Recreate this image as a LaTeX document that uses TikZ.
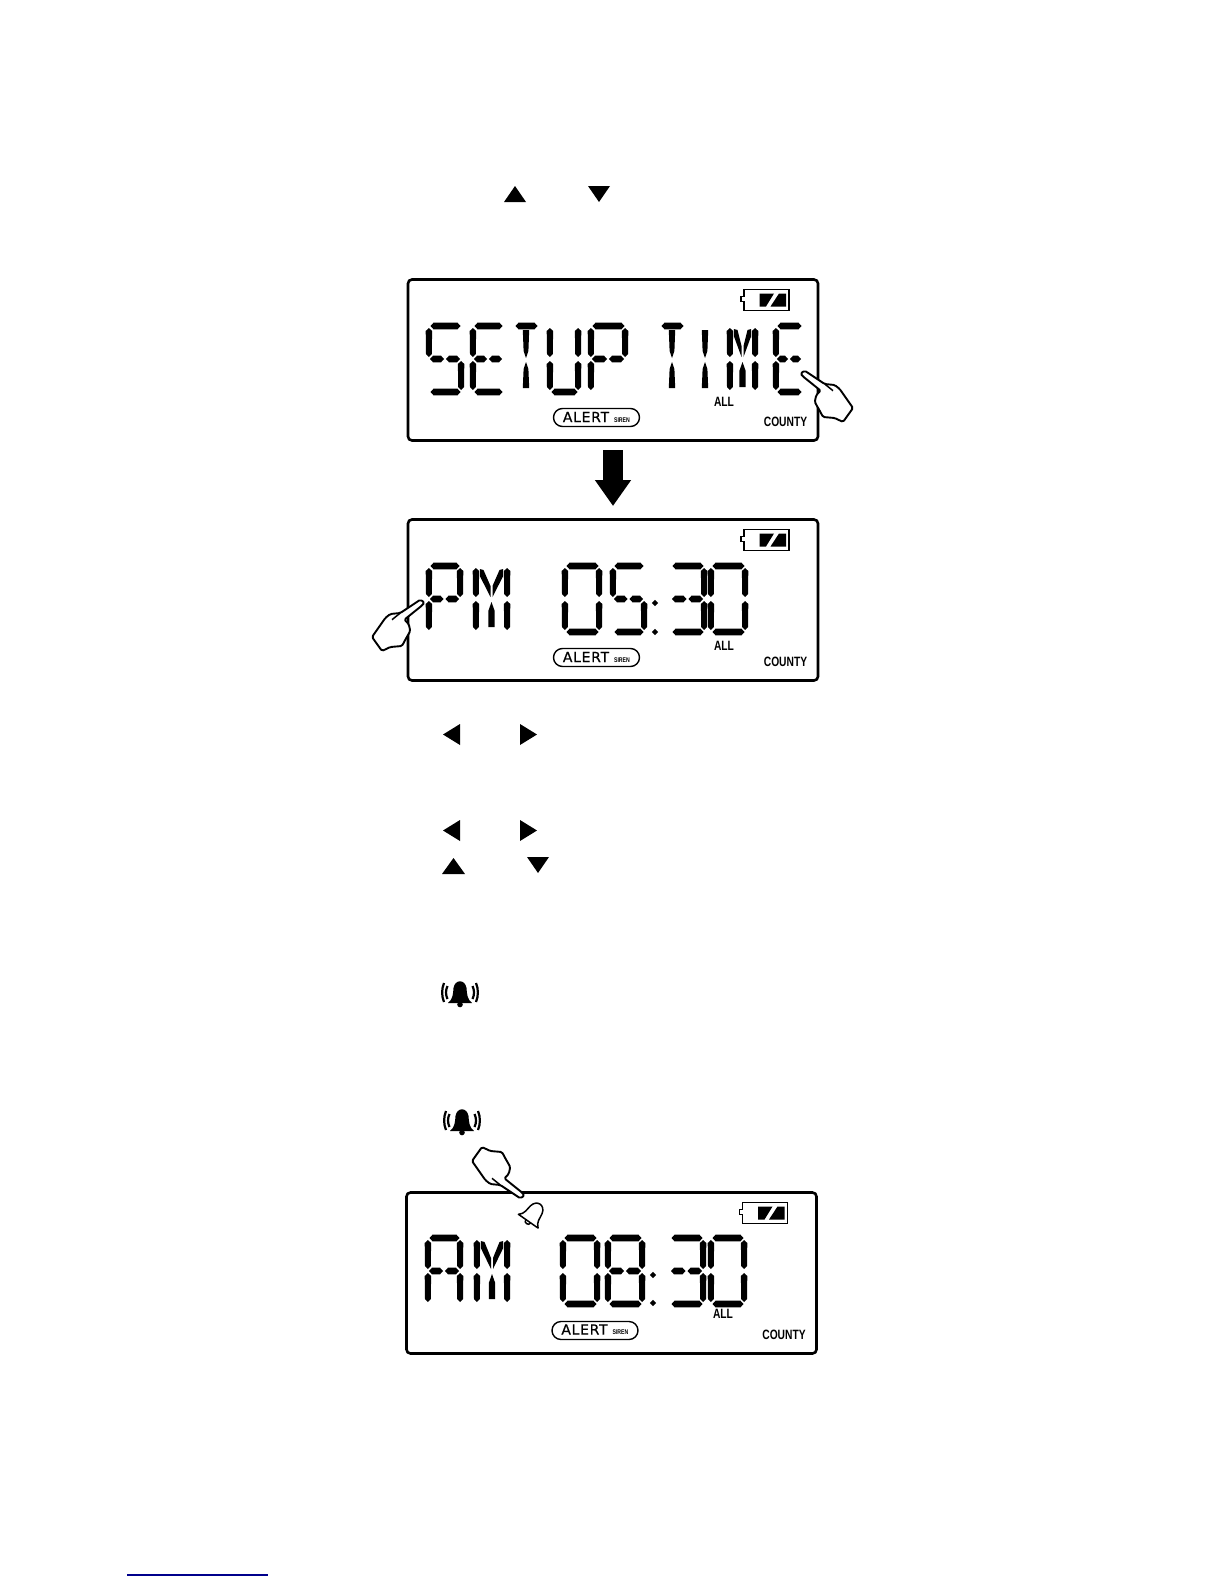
\documentclass[tikz,border=0pt]{standalone}
\usepackage{fontspec}
\usetikzlibrary{arrows.meta}
\newfontfamily\lcdbold[FakeStretch=0.76]{Liberation Sans}
\newfontfamily\lcdthin[LetterSpace=5,FakeBold=0.6]{DejaVu Sans}
\newcommand{\lcdh}[3]{\fill (#1,#3)--(#1+3,#3-3.3)--(#2-3,#3-3.3)--(#2,#3)--(#2-3,#3+3.3)--(#1+3,#3+3.3)--cycle;}
\newcommand{\lcdv}[3]{\fill (#1,#2)--(#1+3.2,#2+3)--(#1+2.9,#3-3)--(#1,#3)--(#1-2.9,#3-3)--(#1-3.2,#2+3)--cycle;}
\newcommand{\lcdsega}{\lcdh{4.5}{\W-3.5}{3}}
\newcommand{\lcdsegd}{\lcdh{4.5}{\W-3.5}{69}}
\newcommand{\lcdsegg}{\lcdh{4}{\W/2-1}{36}}
\newcommand{\lcdsegk}{\lcdh{\W/2+1}{\W-4}{36}}
\newcommand{\lcdsegf}{\lcdv{2.9}{5}{34}}
\newcommand{\lcdsege}{\lcdv{2.9}{38}{67}}
\newcommand{\lcdsegb}{\lcdv{\W-2.9}{5}{34}}
\newcommand{\lcdsegc}{\lcdv{\W-2.9}{38}{67}}
\newcommand{\lcdsegi}{\fill (\W/2-3.2,7)--(\W/2+3.2,7)--(\W/2+2.4,28)--(\W/2,35)--(\W/2-2.4,28)--cycle;}
\newcommand{\lcdsegl}{\fill (\W/2,39)--(\W/2+2.4,46)--(\W/2+3.2,65)--(\W/2-3.2,65)--(\W/2-2.4,46)--cycle;}
\newcommand{\lcdsegp}{\fill (6.8,6)--(10.5,7)--(\W/2-1,23)--(\W/2-1,34)--(6.8,13)--cycle;}
\newcommand{\lcdsegq}{\fill (\W-6.8,6)--(\W-10.5,7)--(\W/2+1,23)--(\W/2+1,34)--(\W-6.8,13)--cycle;}
\newcommand{\lcdsegm}{\fill (\W/2,39)--(\W/2+3.2,48)--(\W/2+3.2,64)--(\W/2-3.2,64)--(\W/2-3.2,48)--cycle;}
\newcommand{\lcd}[4]{\begin{scope}[shift={(#1,#2)}]\def\W{#3}\foreach \s in {#4}{\csname lcdseg\s\endcsname}\end{scope}}
\newcommand{\lcdcolon}[3]{\fill (#1-3.2,#2)--(#1,#2-3.2)--(#1+3.2,#2)--(#1,#2+3.2)--cycle;\fill (#1-3.2,#3)--(#1,#3-3.2)--(#1+3.2,#3)--(#1,#3+3.2)--cycle;}
% screen frame with its fixed marks
\newcommand{\screen}[6]{%
\begin{scope}[shift={(#2,#3)}]
\node[lcdbox] (#1) at (0,0) {};
\node[pill] (#1pill) at (188.5,138) {};
\node[alerttext] (#1alert) at (178,#6) {ALERT};
\node[sirentext] (#1siren) at (214,#6+2.8) {SIREN};
\node[boldtext] (#1county) at (377.5,142.5) {COUNTY};
\node[boldtext] (#1all) at (#4,#5) {ALL};
\draw[line width=1.5] (336,10)--(381,10)--(381,31)--(336,31)--(336,22)--(333,22)--(333,17)--(336,17)--cycle;
\fill (351.5,14)--(366,14)--(358,27)--(351.5,27)--cycle;
\fill (371,14)--(378,14)--(378,27)--(362.5,27)--cycle;
\end{scope}}
\newcommand{\handshape}{\draw[line width=1.9,fill=white,line join=round,rounded corners=1.5pt]
 (-1.5,0.5)--(2.7,-2.3)--(22.7,11)--(32.7,12)--(37.7,16)--(51,35)--(41,49)--(32.7,45)--(21,44)--(17.7,37.7)--(12.7,29)--(14.3,22)--(18.7,17.7)--(1,3.5)--cycle;
 \draw[line width=1.5] (22.7,11)--(31,17.7);}
\newcommand{\soundbell}[2]{\begin{scope}[shift={(#1,#2)}]
 \fill (-12,11)..controls (-7,7) and (-7,2)..(-6.5,-4)..controls (-5,-13) and (5,-13)..(6.5,-4)..controls (7,2) and (7,7)..(12,11)--cycle;
 \fill (0,12.5) circle (2.8);
 \draw[line width=2.2] (-12.5,-6)..controls (-14.5,-2) and (-14.5,3)..(-12.5,7);
 \draw[line width=2.2] (-16,-9)..controls (-18.5,-3) and (-18.5,4)..(-16,10);
 \draw[line width=2.2] (12.5,-6)..controls (14.5,-2) and (14.5,3)..(12.5,7);
 \draw[line width=2.2] (16,-9)..controls (18.5,-3) and (18.5,4)..(16,10);
\end{scope}}
\tikzset{
 lcdbox/.style={draw,line width=2.6pt,rounded corners=4pt,minimum width=410pt,minimum height=161pt,inner sep=0pt,outer sep=0pt,anchor=north west},
 pill/.style={draw,line width=1.4pt,rounded corners=9pt,minimum width=86pt,minimum height=18pt,inner sep=0pt},
 alerttext/.style={font=\lcdthin\fontsize{14}{14}\selectfont,inner sep=0pt},
 sirentext/.style={font=\lcdbold\bfseries\fontsize{6.8}{6.8}\selectfont,inner sep=0pt},
 boldtext/.style={font=\lcdbold\bfseries\fontsize{13.5}{13.5}\selectfont,inner sep=0pt},
 bigarrow/.style={-{Triangle[length=26pt,width=34.5pt]},line width=20pt},
}
\begin{document}
\begin{tikzpicture}[x=1pt,y=-1pt]
\useasboundingbox (0,0) rectangle (1224,1584);
% arrow keys at the top
\fill (504,202)--(515,186)--(526,202)--cycle;
\fill (588,186)--(610,186)--(599,202)--cycle;
% screen 1
\screen{one}{408}{279.5}{316}{122.5}{137.5}
\lcd{426}{323}{38}{a,f,g,k,c,d}
\lcd{470}{323}{36}{a,f,g,k,e,d}
\lcd{511}{323}{30}{a,i,l}
\lcd{547}{323}{34}{f,e,d,b,c}
\lcd{588}{323}{40}{a,f,b,g,k,e}
\lcd{657}{323}{30}{a,i,l}
\lcd{702}{323}{6}{i,l}
\lcd{727}{323}{31}{f,e,b,c,p,q,m}
\lcd{773}{323}{32}{a,f,g,k,e,d}
\begin{scope}[shift={(802,373)}]\handshape\end{scope}
% big arrow
\coordinate (arrowstart) at (613,450);
\coordinate (arrowend) at (613,506);
\draw[bigarrow] (arrowstart) -- (arrowend);
% screen 2
\screen{two}{408}{519.5}{316}{126.5}{137.5}
\lcd{426}{563}{37}{a,f,b,g,k,e}
\lcd{473}{563}{37}{f,e,b,c,p,q,m}
\lcd{562}{563}{40}{a,b,c,d,e,f}
\lcd{610}{563}{37}{a,f,g,k,c,d}
\lcdcolon{655}{603}{632}
\lcd{668}{563}{39}{a,b,g,k,c,d}
\lcd{708}{563}{40}{a,b,c,d,e,f}
\begin{scope}[shift={(423,602)},xscale=-1]\handshape\end{scope}
% arrow keys in the middle
\fill (460,724)--(443,734.5)--(460,745)--cycle;
\fill (520,724)--(537,734.5)--(520,745)--cycle;
\fill (460,820)--(443,830.5)--(460,841)--cycle;
\fill (520,820)--(537,830.5)--(520,841)--cycle;
\fill (442,874)--(453.5,858)--(465,874)--cycle;
\fill (527,857)--(549,857)--(538,873)--cycle;
% alarm keys
\soundbell{460}{992}
\soundbell{462}{1120}
% screen 3
\screen{three}{406.5}{1192.5}{316.5}{121.5}{137}
\lcd{425}{1235}{38}{a,b,c,e,f,g,k}
\lcd{474}{1235}{36}{f,e,b,c,p,q,m}
\lcd{560}{1235}{40}{a,b,c,d,e,f}
\lcd{605}{1235}{40}{a,b,c,d,e,f,g,k}
\lcdcolon{653}{1275}{1303}
\lcd{667}{1235}{39}{a,b,g,k,c,d}
\lcd{708}{1235}{39}{a,b,c,d,e,f}
\begin{scope}[shift={(523,1196)},xscale=-1,yscale=-1]\handshape\end{scope}
\begin{scope}[shift={(534,1213)},rotate=-35]
 \draw[line width=1.5,fill=white,line join=round] (-12,10)..controls (-7,6) and (-8,1)..(-7,-4)..controls (-5,-13) and (5,-13)..(7,-4)..controls (8,1) and (7,6)..(12,10)--cycle;
 \draw[line width=1.5] (-3,10)..controls (-3,14) and (3,14)..(3,10);
\end{scope}
% underline at the foot of the page
\draw[color={rgb,255:red,0;green,0;blue,140},line width=1.3] (127,1575)--(268,1575);
\end{tikzpicture}
\end{document}
